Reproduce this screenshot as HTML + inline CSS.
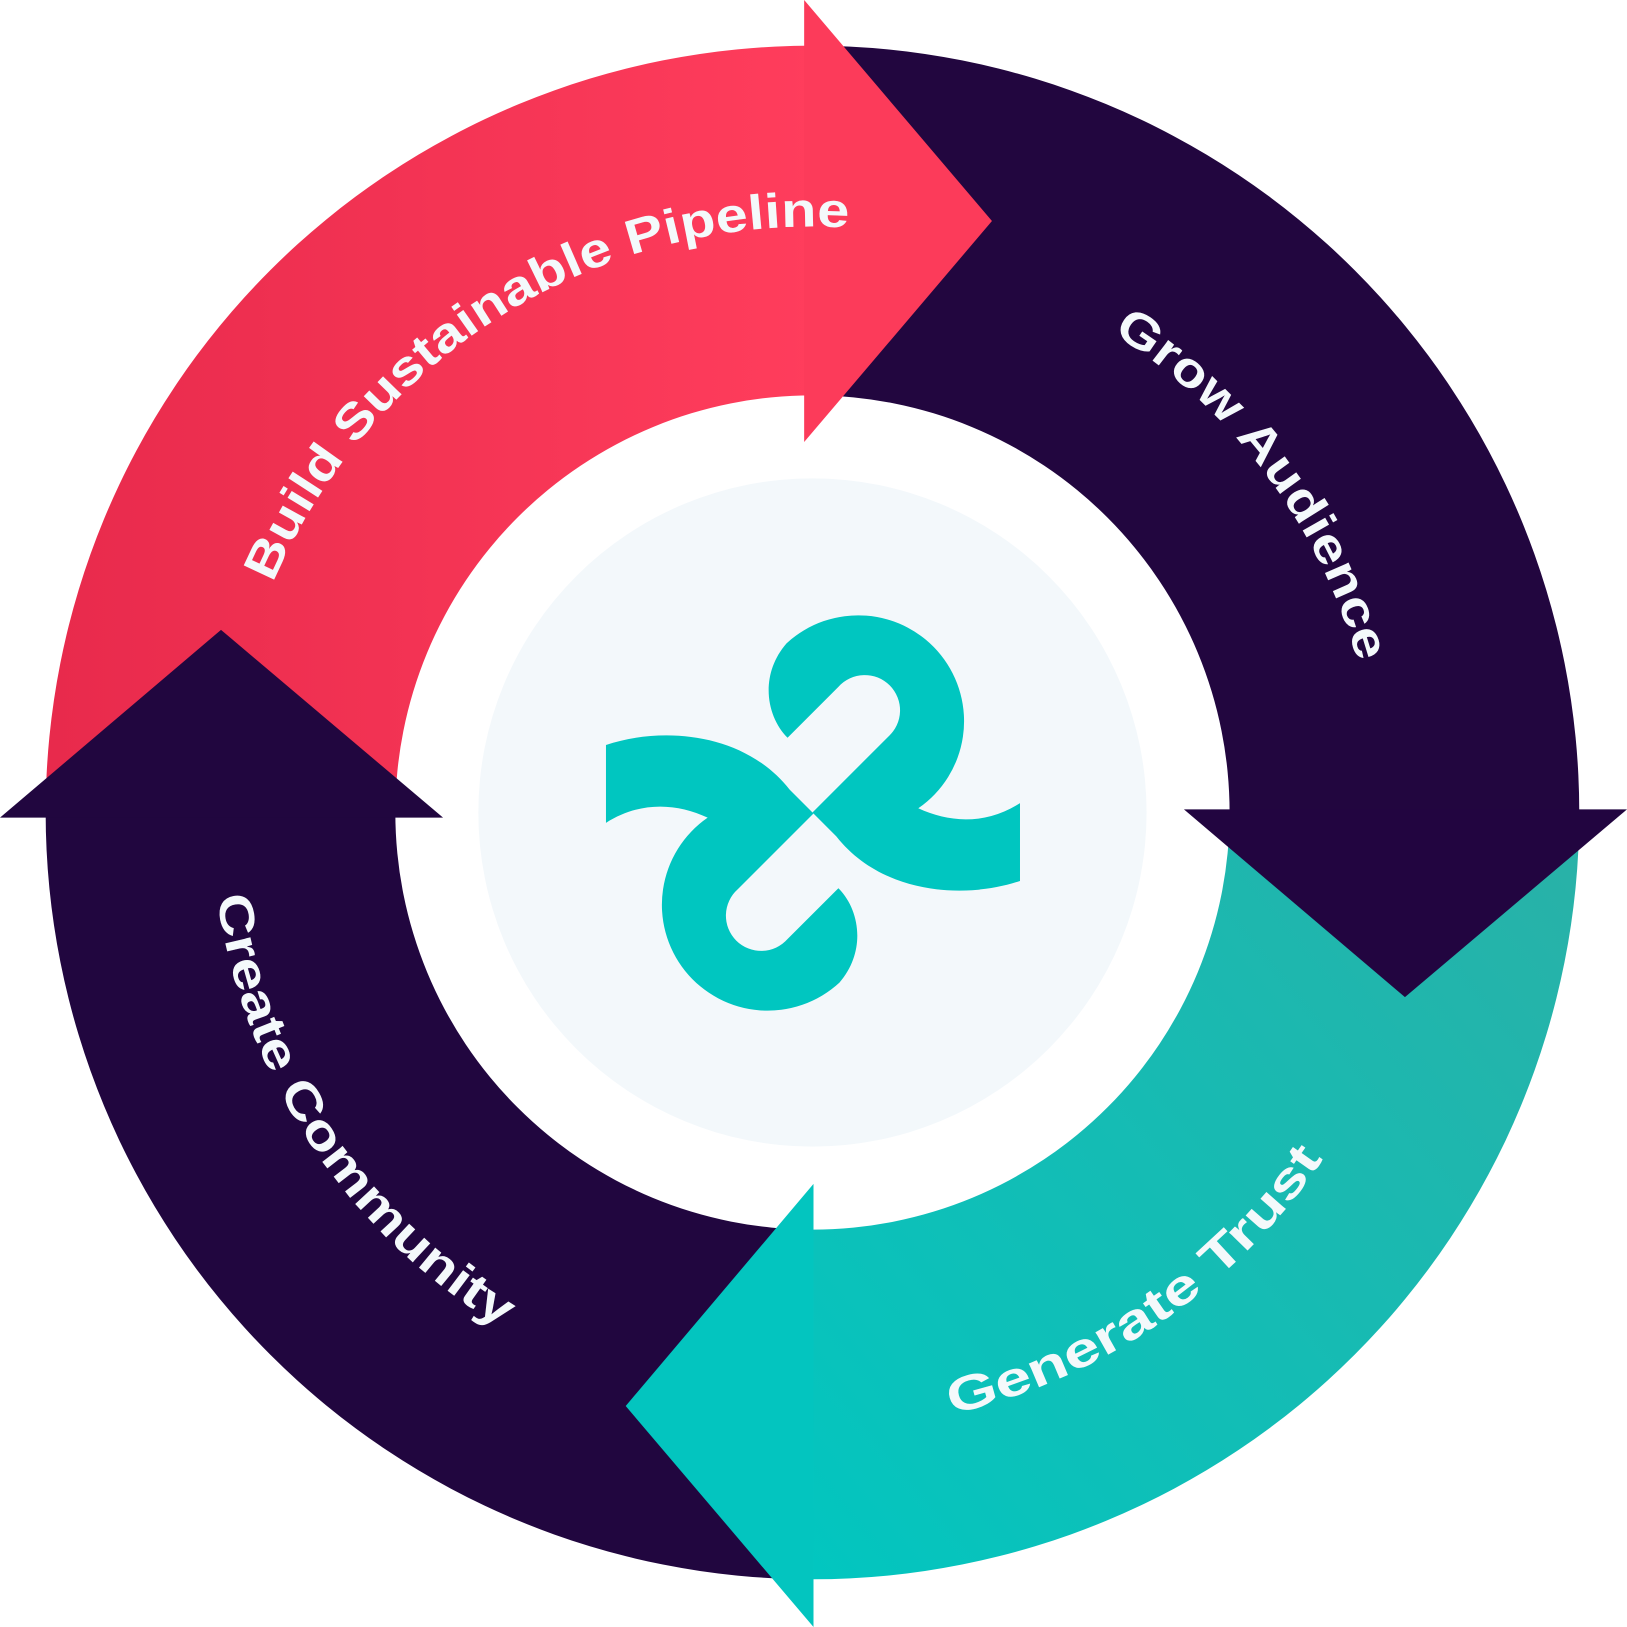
<!DOCTYPE html>
<html><head><meta charset="utf-8"><style>
html,body{margin:0;padding:0;background:#fff;}
svg{display:block;}
text{font-family:"Liberation Sans",sans-serif;font-weight:bold;fill:#f4f9fb;font-size:47px;}
</style></head><body>
<svg width="1627" height="1627" viewBox="0 0 1568 1568" xmlns="http://www.w3.org/2000/svg">
<defs>
<linearGradient id="pk" x1="0" y1="0" x2="1" y2="0" gradientUnits="objectBoundingBox">
<stop offset="0" stop-color="#e82a4c"/><stop offset="1" stop-color="#ff3d5c"/></linearGradient>
<linearGradient id="tl" x1="1568" y1="780" x2="700" y2="1500" gradientUnits="userSpaceOnUse">
<stop offset="0" stop-color="#2bb0a6"/><stop offset="1" stop-color="#00c7c1"/></linearGradient>
<path id="p1" d="M263,562 A565,565 0 0 1 881,227"/>
<path id="p2" d="M1072,321 A545,545 0 0 1 1326,735"/>
<path id="p3" d="M917,1363 A595,595 0 0 0 1342,986"/>
<path id="p4" d="M209,864 A580,580 0 0 0 585,1328"/>
</defs>
<path d="M44,783 A739,739 0 0 1 783,44 L783,381 A402,402 0 0 0 381,783 Z" fill="url(#pk)"/>
<path d="M783,44 A739,739 0 0 1 1522,783 L1185,783 A402,402 0 0 0 783,381 Z" fill="#22063f"/>
<path d="M1522,783 A739,739 0 0 1 783,1522 L783,1185 A402,402 0 0 0 1185,783 Z" fill="url(#tl)"/>
<path d="M783,1522 A739,739 0 0 1 44,783 L381,783 A402,402 0 0 0 783,1185 Z" fill="#21063f"/>
<polygon points="775,0 956,213 775,426" fill="#fc3b5a"/>
<polygon points="1141,780 1568,780 1354,961" fill="#220540"/>
<polygon points="784,1141 784,1568 603,1355" fill="#03c5bf"/>
<polygon points="0,788 427,788 213,607" fill="#21063f"/>
<circle cx="783" cy="783" r="322" fill="#f3f8fb"/>
<g fill="#00c6c0">
<path d="M783,783 L856,710 A34,34 0 1 0 808,662 L759,711 C738,690 732,650 758,620 A102,102 0 1 1 885,779 C915,793 950,795 983,774 L983,849 C930,867 850,862 806,806 Z"/>
<path d="M784,784 L711,857 A34,34 0 1 0 759,905 L808,856 C829,877 835,917 809,947 A102,102 0 1 1 682,788 C652,774 617,772 584,793 L584,718 C637,700 717,705 761,761 Z"/>
</g>
<text><textPath href="#p1" textLength="695" lengthAdjust="spacingAndGlyphs">Build Sustainable Pipeline</textPath></text>
<text><textPath href="#p2" textLength="405" lengthAdjust="spacingAndGlyphs">Grow Audience</textPath></text>
<text><textPath href="#p3" textLength="445" lengthAdjust="spacingAndGlyphs">Generate Trust</textPath></text>
<text><textPath href="#p4" textLength="515" lengthAdjust="spacingAndGlyphs">Create Community</textPath></text>
</svg>
</body></html>
